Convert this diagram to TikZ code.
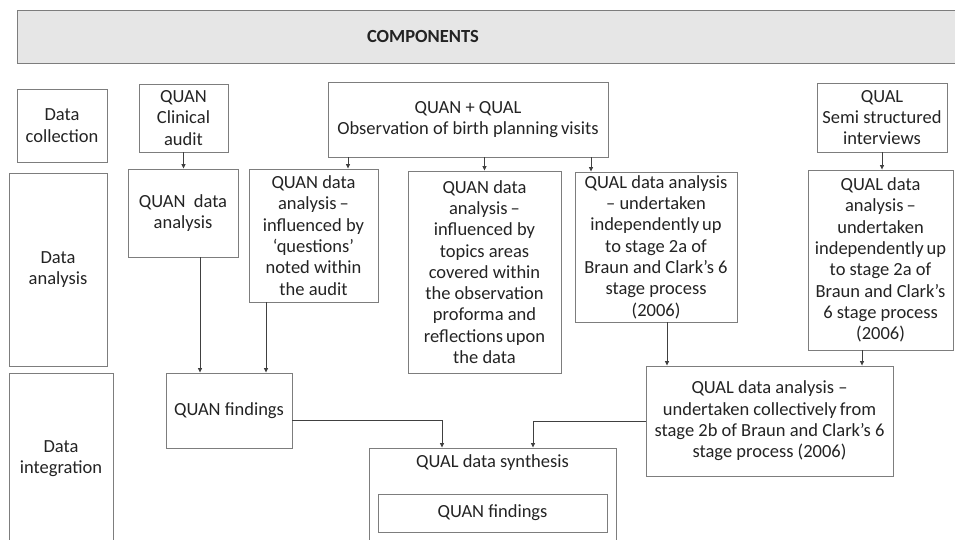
\documentclass[tikz,border=0pt]{standalone}
\usepackage{fontspec}
\setmainfont{Carlito}
\usepackage{xcolor}
\usepackage{tikz}
\usetikzlibrary{arrows.meta}

\definecolor{boxgray}{RGB}{125,125,125}
\definecolor{linegray}{RGB}{64,64,64}
\definecolor{txtgray}{RGB}{35,35,35}
\definecolor{bandfill}{RGB}{230,230,230}

\begin{document}
\begin{tikzpicture}[x=1pt, y=-1pt,
  box/.style={draw=boxgray, line width=0.9pt, align=center, inner sep=1pt,
    text=txtgray, font=\fontsize{18.5}{21.3}\selectfont},
  arr/.style={-{Triangle[length=4.5pt,width=4pt]}, draw=linegray, line width=0.75pt}]
  \useasboundingbox (0,0) rectangle (955,540);
  \clip (0,0) rectangle (955,540);

  % header band
  \draw[draw=boxgray, fill=bandfill, line width=0.9pt] (17,10) rectangle (1000,63);
  \node[text=txtgray, font=\fontsize{18.5}{21.3}\selectfont\bfseries] (comp) at (423,37) {COMPONENTS};

  % row labels
  \node[box, minimum width=90pt,  minimum height=73pt]  (dcol) at (62,125.5) {Data\\collection};
  \node[box, minimum width=98pt,  minimum height=193pt] (dana) at (58,269.5) {Data\\analysis};
  \node[box, minimum width=104pt, minimum height=172pt] (dint) at (61,459)   {Data\\integration};

  % data collection
  \node[box, minimum width=89pt,  minimum height=68pt] (audit) at (183.5,118) {QUAN\\Clinical\\audit};
  \node[box, minimum width=280pt, minimum height=75pt] (obs)   at (468,119.5) {QUAN + QUAL\\Observation of birth planning\,visits};
  \node[box, minimum width=130pt, minimum height=69pt] (semi)  at (882,117.5) {QUAL\\Semi structured\\interviews};

  % data analysis
  \node[box, minimum width=110pt, minimum height=88pt]  (quanana) at (183,213)     {QUAN\ \ data\\analysis};
  \node[box, minimum width=129pt, minimum height=133pt] (qinfl)   at (313.5,235.5) {QUAN data\\analysis\,--\\influenced by\\‘questions’\\noted within\\the audit};
  \node[box, minimum width=153pt, minimum height=202pt] (qtopic)  at (484.5,272)   {QUAN data\\analysis\,--\\influenced by\\topics areas\\covered within\\the observation\\proforma and\\reflections\,upon\\the data};
  \node[box, minimum width=162pt, minimum height=150pt] (qlind)   at (656,247)     {QUAL data analysis\\-- undertaken\\independently\,up\\to stage 2a of\\Braun and Clark’s 6\\stage process\\(2006)};
  \node[box, minimum width=145pt, minimum height=180pt] (qlsemi)  at (880.5,260)   {QUAL data\\analysis\,--\\undertaken\\independently\,up\\to stage 2a of\\Braun and Clark’s\\6 stage process\\(2006)};

  % data integration
  \node[box, minimum width=126pt, minimum height=75pt]  (qnfind) at (229,410.5) {QUAN findings};
  \node[box, minimum width=247pt, minimum height=110pt] (qlcoll) at (769.5,421) {QUAL data analysis --\\undertaken collectively\,from\\stage 2b of Braun and Clark’s 6\\stage process (2006)};
  \node[box, minimum width=247pt, minimum height=100pt,
    label={[anchor=north, inner sep=0pt, text=txtgray, font=\fontsize{18.5}{21.3}\selectfont, yshift=-7pt]north:QUAL data synthesis}]
    (synth) at (492.5,498) {};
  \node[box, minimum width=229pt, minimum height=38pt] (qnfind2) at (492.5,513) {QUAN findings};

  % connectors
  \coordinate (c1) at ([xshift=34.5pt]qinfl.north);
  \coordinate (c2) at ([xshift=-65pt]qlind.north);
  \coordinate (c3) at ([xshift=17pt]quanana.south);
  \coordinate (c4) at ([xshift=37pt]qnfind.north);
  \coordinate (c6) at ([xshift=-50.5pt]synth.north);
  \coordinate (c7) at ([xshift=11pt]qlind.south);
  \coordinate (c8) at ([xshift=-18.5pt]qlsemi.south);
  \coordinate (c9) at ([xshift=40.5pt]synth.north);

  \draw[arr] (audit.south) -- (audit.south |- quanana.north);
  \draw[arr] (c1 |- obs.south) -- (c1);
  \draw[arr] (qtopic.north |- obs.south) -- (qtopic.north);
  \draw[arr] (c2 |- obs.south) -- (c2);
  \draw[arr] (semi.south) -- (semi.south |- qlsemi.north);
  \draw[arr] (c3) -- (c3 |- qnfind.north);
  \draw[arr] (c4 |- qinfl.south) -- (c4);
  \draw[arr] (qnfind.east |- 0,420) -| (c6);
  \draw[arr] (c7) -- (c7 |- qlcoll.north);
  \draw[arr] (c8) -- (c8 |- qlcoll.north);
  \draw[arr] (qlcoll.west) -| (c9);
\end{tikzpicture}
\end{document}
